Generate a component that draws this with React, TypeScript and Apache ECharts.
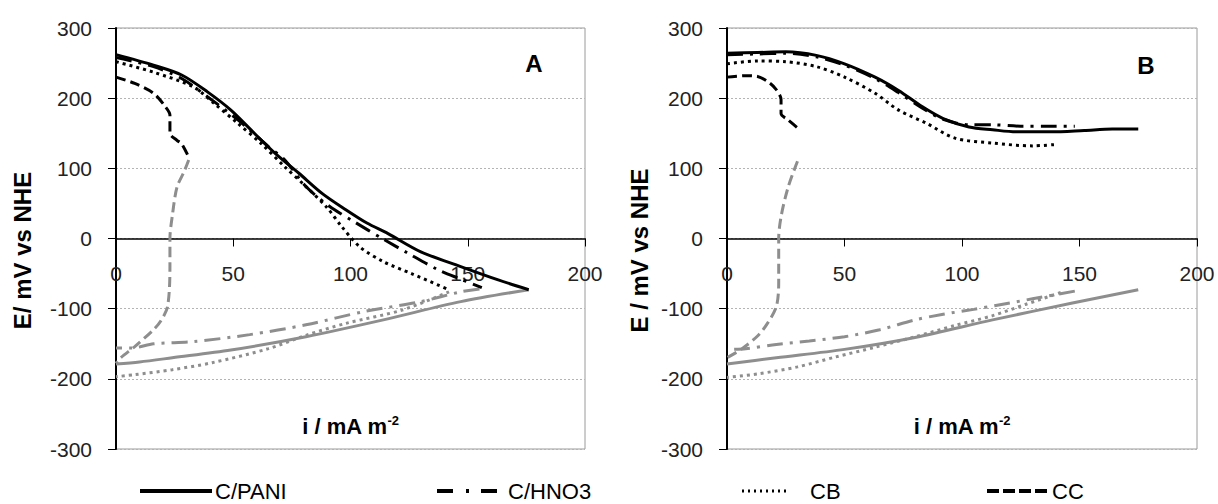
import React, { useEffect, useRef } from "react";
import * as echarts from "echarts";

// ---------- data (i / mA m-2, E / mV vs NHE) ----------
// Panel A
const A_PANI_fwd = [[0,262],[16,247],[28,233],[39,209],[49,183],[59,150],[68,121],[78,93],[88,64],[98,41],[107,22],[116,7],[130,-19],[147,-40],[163,-59],[176,-73]];
const A_PANI_rev = [[176,-73],[147,-90],[114,-116],[81,-140],[49,-159],[24,-170],[10,-176],[0,-179]];
const A_HNO3_fwd = [[0,258],[16,245],[28,228],[39,202],[52,169],[65,131],[72,112],[81,74],[91,46],[101,25],[114,-1],[124,-20],[137,-44],[147,-58],[156,-70]];
const A_HNO3_rev = [[155,-72],[147,-76],[130,-90],[106,-104],[81,-123],[57,-137],[33,-147],[16,-150],[7,-156],[0,-156]];
const A_CB_fwd = [[0,252],[16,237],[33,216],[42,192],[52,164],[62,135],[72,102],[81,74],[90,44],[96,18],[104,-12],[114,-33],[126,-50],[142,-73]];
const A_CB_rev = [[142,-76],[122,-102],[98,-121],[81,-138],[65,-157],[41,-177],[24,-187],[8,-194],[0,-197]];
const A_CC_fwd = [[0,230],[8,221],[16,207],[21,188],[23,176],[23,150],[26,140],[28,135],[31,116]];
const A_CC_rev = [[31,112],[29,95],[26,73],[24,32],[23,0],[23,-40],[22,-97],[19,-118],[16,-130],[8,-154],[2,-170],[0,-178]];

// Panel B
const B_PANI_fwd = [[0,264],[13,265],[25,266],[38,261],[50,249],[63,230],[73,211],[83,188],[92,171],[103,159],[113,155],[123,152],[138,152],[152,154],[164,156],[175,156]];
const B_PANI_rev = [[175,-73],[147,-92],[113,-116],[80,-141],[50,-158],[21,-170],[0,-179]];
const B_HNO3_fwd = [[0,262],[13,263],[25,264],[38,259],[50,247],[63,228],[73,208],[83,186],[92,170],[103,162],[113,162],[125,160],[137,160],[148,160]];
const B_HNO3_rev = [[148,-75],[130,-86],[115,-95],[105,-101],[92,-108],[80,-116],[65,-130],[50,-140],[35,-146],[21,-151],[8,-157],[0,-158]];
const B_CB_fwd = [[0,249],[13,253],[25,252],[38,245],[50,230],[63,207],[73,183],[85,164],[97,143],[113,136],[130,132],[140,134]];
const B_CB_rev = [[142,-77],[127,-94],[113,-110],[97,-124],[80,-140],[63,-155],[46,-169],[30,-183],[13,-193],[0,-198]];
const B_CC_fwd = [[0,230],[8,232],[13,231],[18,222],[21,212],[23,198],[23,178],[26,169],[31,155]];
const B_CC_rev = [[30,110],[26,73],[23,31],[22,0],[22,-63],[21,-97],[17,-122],[13,-139],[6,-158],[0,-170]];

const LEGEND_NAMES = ["C/PANI", "C/HNO3", "CB", "CC"];
const PANEL_LABELS = ["A", "B"];
const Y_TITLES = ["E/ mV vs NHE", "E / mV vs NHE"];

const FONT = '"Liberation Sans", Arial, Helvetica, sans-serif';
const BLACK = "#000000";
const GRAY = "#8e8e8e";

const STYLES: Record<string, any> = {
  "C/PANI": "solid",
  "C/HNO3": [16, 7, 3, 7],
  CB: [3, 4],
  CC: [10, 5],
};

const GRID_TOP = 28;
const GRID_HEIGHT = 421;

export default function App() {
  const ref = useRef<HTMLDivElement>(null);

  useEffect(() => {
    if (!ref.current) return;
    const chart = echarts.init(ref.current, null, { renderer: "svg" });

    const grids = [
      { left: 116, top: GRID_TOP, width: 469, height: GRID_HEIGHT },
      { left: 727, top: GRID_TOP, width: 470, height: GRID_HEIGHT },
    ].map((g) => ({
      ...g,
      show: true,
      containLabel: false,
      outerBoundsMode: "none",
      borderColor: "#9a9a9a",
      borderWidth: 1,
      backgroundColor: "transparent",
    }));

    // the x axis crosses the y axis at E = 0, which lies at mid-height (range is symmetric)
    const xOffset = -GRID_HEIGHT / 2;

    const xAxes = [0, 1].map((i) => ({
      type: "value",
      gridIndex: i,
      position: "bottom",
      offset: xOffset,
      min: 0,
      max: 200,
      interval: 50,
      axisLine: { show: true, onZero: false, lineStyle: { color: BLACK, width: 1.5 } },
      axisTick: { show: true, length: 8, lineStyle: { color: BLACK, width: 1 } },
      axisLabel: { margin: 24, fontSize: 21, color: "#222", fontFamily: FONT },
      splitLine: { show: false },
      name: "{a|i / mA m}{s|-2}",
      nameLocation: "middle",
      nameGap: 175,
      nameTextStyle: {
        rich: {
          a: { fontSize: 22, fontWeight: "bold", fontFamily: FONT, color: BLACK, lineHeight: 26 },
          s: { fontSize: 13, fontWeight: "bold", fontFamily: FONT, color: BLACK, verticalAlign: "top", lineHeight: 26 },
        },
      },
    }));

    const yAxes = [0, 1].map((i) => ({
      type: "value",
      gridIndex: i,
      min: -300,
      max: 300,
      interval: 100,
      axisLine: { show: true, onZero: false, lineStyle: { color: BLACK, width: 2 } },
      axisTick: { show: true, length: 8, lineStyle: { color: BLACK, width: 1 } },
      axisLabel: { margin: 24, fontSize: 21, color: "#222", fontFamily: FONT },
      splitLine: { show: true, lineStyle: { type: [2, 2], color: "#b4b4b4", width: 1 } },
      name: Y_TITLES[i],
      nameLocation: "middle",
      nameGap: i === 0 ? 82 : 76,
      nameRotate: 90,
      nameTextStyle: { fontSize: 24, fontWeight: "bold", fontFamily: FONT, color: BLACK, padding: [0, 24, 0, 0] },
    }));

    const panels = [
      { fwd: [A_PANI_fwd, A_HNO3_fwd, A_CB_fwd, A_CC_fwd], rev: [A_PANI_rev, A_HNO3_rev, A_CB_rev, A_CC_rev] },
      { fwd: [B_PANI_fwd, B_HNO3_fwd, B_CB_fwd, B_CC_fwd], rev: [B_PANI_rev, B_HNO3_rev, B_CB_rev, B_CC_rev] },
    ];

    const series: any[] = [];
    panels.forEach((p, pi) => {
      LEGEND_NAMES.forEach((name, k) => {
        series.push({
          type: "line",
          name: name + " (reverse)",
          xAxisIndex: pi,
          yAxisIndex: pi,
          data: p.rev[k],
          symbol: "none",
          smooth: 0.3,
          z: 2,
          lineStyle: { color: GRAY, width: 3, type: STYLES[name] },
        });
        series.push({
          type: "line",
          name,
          xAxisIndex: pi,
          yAxisIndex: pi,
          data: p.fwd[k],
          symbol: "none",
          smooth: 0.3,
          z: 3,
          lineStyle: { color: BLACK, width: 3, type: STYLES[name] },
        });
      });
    });

    const legendY = 491;
    const legendItems = [
      { x1: 140, x2: 212, tx: 215, dash: null, width: 4 },
      { x1: 437, x2: 505, tx: 508, dash: [16, 13, 3, 12], width: 4 },
      { x1: 742, x2: 790, tx: 810, dash: [2, 4], width: 3 },
      { x1: 987, x2: 1049, tx: 1052, dash: [12, 4], width: 4 },
    ];
    const graphic: any[] = [];
    legendItems.forEach((it, k) => {
      graphic.push({
        type: "line",
        shape: { x1: it.x1, y1: legendY, x2: it.x2, y2: legendY },
        style: { stroke: BLACK, lineWidth: it.width, lineDash: it.dash || undefined },
      });
      graphic.push({
        type: "text",
        x: it.tx,
        y: legendY,
        style: { text: LEGEND_NAMES[k], font: `22px ${FONT}`, fill: BLACK, align: "left", verticalAlign: "middle" },
      });
    });
    graphic.push({
      type: "text", x: 534, y: 63,
      style: { text: PANEL_LABELS[0], font: `bold 24px ${FONT}`, fill: BLACK, align: "center", verticalAlign: "middle" },
    });
    graphic.push({
      type: "text", x: 1146, y: 65,
      style: { text: PANEL_LABELS[1], font: `bold 24px ${FONT}`, fill: BLACK, align: "center", verticalAlign: "middle" },
    });

    chart.setOption({
      animation: false,
      backgroundColor: "#ffffff",
      grid: grids,
      xAxis: xAxes,
      yAxis: yAxes,
      series,
      graphic,
    });

    return () => chart.dispose();
  }, []);

  return <div ref={ref} style={{ position: "fixed", left: 0, top: 0, width: 1218, height: 504 }} />;
}
